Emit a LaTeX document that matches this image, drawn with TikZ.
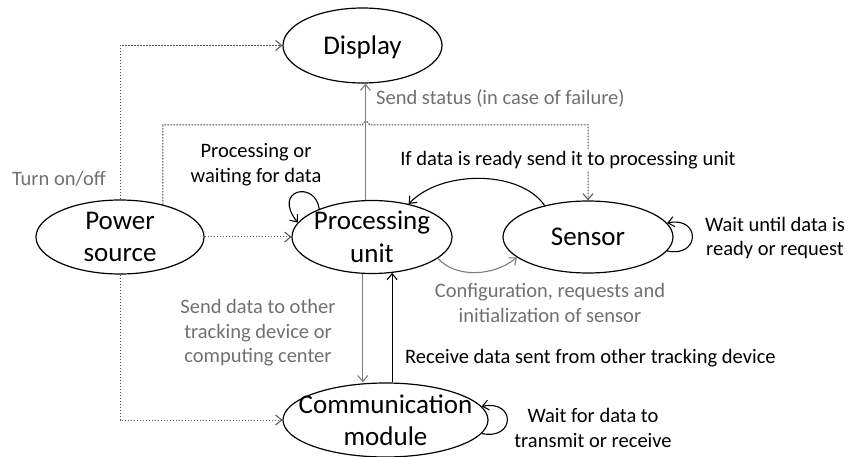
\documentclass[tikz,border=0pt]{standalone}
\usepackage{fontspec}
\setmainfont{Carlito}
\usetikzlibrary{arrows.meta,shapes.geometric}

\definecolor{labelgray}{RGB}{112,112,112}
\definecolor{linegray}{RGB}{125,125,125}
\definecolor{dotgray}{RGB}{80,80,80}

\tikzset{
  state/.style={draw=black, line width=1.2pt, ellipse, inner sep=0pt},
  statetext/.style={font=\fontsize{27}{32.4}\selectfont, align=center, inner sep=0pt},
  lbl/.style={font=\fontsize{20.5}{24.6}\selectfont, align=center, inner sep=2pt},
  graylbl/.style={lbl, text=labelgray},
  tip/.style={-{Straight Barb[length=6pt,width=10pt]}},
  flow/.style={tip, draw=black, line width=1.1pt},
  grayflow/.style={tip, draw=linegray, line width=1.1pt},
  powerline/.style={tip, draw=dotgray, line width=1pt, dash pattern=on 1.8pt off 1.2pt},
}

\begin{document}
\begin{tikzpicture}[x=1pt,y=-1pt]
\useasboundingbox (0,0) rectangle (849,457);

% states
\node[state, minimum width=159, minimum height=75] (disp)   at (362.5,45.5) {};
\node[state, minimum width=168, minimum height=74] (power)  at (120,237) {};
\node[state, minimum width=160, minimum height=73] (proc)   at (372,237) {};
\node[state, minimum width=170, minimum height=72] (sensor) at (588,237) {};
\node[state, minimum width=205, minimum height=74] (comm)   at (385.5,420) {};

\node[statetext] (dispT)   at ([yshift=-1.5pt]disp.center)   {Display};
\node[statetext] (powerT)  at (power)  {Power\\source};
\node[statetext] (procT)   at (proc)   {Processing\\unit};
\node[statetext] (sensorT) at (sensor) {Sensor};
\node[statetext] (commT)   at (comm)   {Communication\\module};

% power supply lines
\draw[powerline] (power.north) |- (disp.west);
\draw[powerline] (power.east) -- (proc.west);
\draw[powerline] (power.south) |- (comm.west);
\draw[powerline] (power.37) |- (362.5,125)
  arc[start angle=180, end angle=360, radius=3.5] -| (sensor.north);

% data flows
\draw[grayflow] (proc.100) -- (proc.100 |- disp.south);
\draw[grayflow] (proc.-104) -- (proc.-104 |- comm.north);
\draw[flow] (comm.80) -- (comm.80 |- proc.-60.5);
\draw[flow] (sensor.144) .. controls +(-25,-36) and +(32,-34) .. (proc.42);
\draw[grayflow] (proc.-18) .. controls +(18,20) and +(-23,19) .. (sensor.-164);

% self loops
\draw[flow] (proc.152) .. controls +(-4,-29) and +(-26,-33) .. (proc.169);
\draw[flow] (sensor.-10) .. controls +(33.5,7) and +(33.5,-7) .. (sensor.10);
\draw[flow] (comm.-8) .. controls +(34,7) and +(34,-7) .. (comm.8);

% labels
\node[graylbl] (lTurn) at (59,179) {Turn on/off};
\node[graylbl, anchor=west] (lStatus) at (374,98) {Send status (in case of failure)};
\node[lbl] (lProcLoop) at (256,165) {Processing or\\waiting for data};
\node[lbl, fill=white] (lReady) at (568,160) {If data is ready send it to processing unit};
\node[lbl] (lWait) at (775,238) {Wait until data is\\ready or request};
\node[graylbl] (lConf) at (550,303) {Configuration, requests and\\initialization of sensor};
\node[graylbl] (lSend) at (258,333) {Send data to other\\tracking device or\\computing center};
\node[lbl, anchor=west] (lRecv) at (403,358) {Receive data sent from other tracking device};
\node[lbl] (lComm) at (593,428) {Wait for data to\\transmit or receive};
\end{tikzpicture}
\end{document}
